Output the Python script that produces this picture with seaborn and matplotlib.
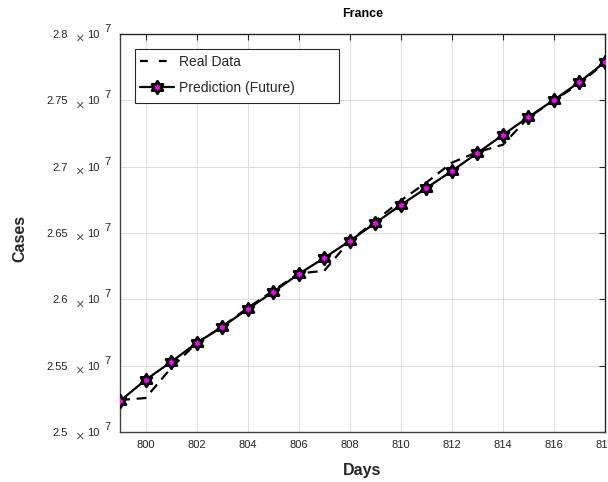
import numpy as np
import pandas as pd
import matplotlib
matplotlib.use("Agg")
import matplotlib.pyplot as plt
from matplotlib.path import Path
from matplotlib.lines import Line2D
from matplotlib.patches import Rectangle
import matplotlib.transforms as mtransforms
import seaborn as sns

# Daily cumulative case counts, France
days = [799, 800, 801, 802, 803, 804, 805, 806, 807, 808,
        809, 810, 811, 812, 813, 814, 815, 816, 817, 818]
real_cases = [2.5241e7, 2.5256e7, 2.5482e7, 2.5670e7, 2.5795e7, 2.5935e7, 2.6065e7,
              2.6195e7, 2.6215e7, 2.6440e7, 2.6590e7, 2.6745e7, 2.6880e7, 2.7030e7,
              2.7110e7, 2.7165e7, 2.7370e7, 2.7500e7, 2.7625e7, 2.7785e7]
pred_cases = [2.5234e7, 2.5392e7, 2.5528e7, 2.5671e7, 2.5791e7, 2.5927e7, 2.6055e7,
              2.6191e7, 2.6312e7, 2.6440e7, 2.6575e7, 2.6711e7, 2.6839e7, 2.6967e7,
              2.7103e7, 2.7239e7, 2.7374e7, 2.7503e7, 2.7638e7, 2.7789e7]
x_ticks = [800, 802, 804, 806, 808, 810, 812, 814, 816, 818]
y_ticks = [2.5e7, 2.55e7, 2.6e7, 2.65e7, 2.7e7, 2.75e7, 2.8e7]
y_tick_labels = ["2.5", "2.55", "2.6", "2.65", "2.7", "2.75", "2.8"]

df = pd.DataFrame({"Days": days, "Real": real_cases, "Pred": pred_cases})

sns.set_style("white")
plt.rcParams["font.family"] = ["Liberation Sans", "DejaVu Sans"]

TXT = "#262626"
MAGENTA = "#ff00ff"
DASH = (0, (4.5, 3))

# Six-pointed star (hexagram) marker
angles_out = np.deg2rad(90 + np.arange(6) * 60)
angles_in = angles_out + np.deg2rad(30)
r_in = 1 / np.sqrt(3)
verts = []
for ao, ai in zip(angles_out, angles_in):
    verts.append((np.cos(ao), np.sin(ao)))
    verts.append((r_in * np.cos(ai), r_in * np.sin(ai)))
verts.append(verts[0])
codes = [Path.MOVETO] + [Path.LINETO] * (len(verts) - 2) + [Path.CLOSEPOLY]
hexagram = Path(verts, codes)
marker_style = dict(marker=hexagram, markersize=9, markerfacecolor=MAGENTA,
                    markeredgecolor="black", markeredgewidth=2.0)

fig = plt.figure(figsize=(6.08, 4.82), dpi=100)
ax = fig.add_axes([120 / 608, 1 - 432 / 482, 485 / 608, 398 / 482])

sns.lineplot(data=df, x="Days", y="Real", ax=ax, color="black", linewidth=1.6,
             linestyle=DASH, label="Real Data", zorder=3)
sns.lineplot(data=df, x="Days", y="Pred", ax=ax, color="black", linewidth=1.6,
             label="Prediction (Future)", zorder=4, **marker_style)

ax.set_xlim(799, 818)
ax.set_ylim(2.5e7, 2.8e7)
ax.set_xticks(x_ticks)
ax.set_xticklabels([str(t) for t in x_ticks])
ax.set_yticks(y_ticks)
ax.set_yticklabels(y_tick_labels)

ax.grid(True, color="#dedede", linewidth=0.7)
ax.set_axisbelow(True)
ax.tick_params(axis="both", direction="in", length=4, width=0.8, colors=TXT,
               labelsize=8, top=True, right=True)
ax.tick_params(axis="y", pad=37.5)
ax.tick_params(axis="x", pad=6)
for side in ["left", "bottom"]:
    ax.spines[side].set_color("#404040")
    ax.spines[side].set_linewidth(1.0)
for side in ["top", "right"]:
    ax.spines[side].set_color(TXT)
    ax.spines[side].set_linewidth(1.0)

# Exponent annotation next to every y tick
ytrans = ax.get_yaxis_transform()
times_tr = mtransforms.offset_copy(ytrans, fig=fig, x=0, y=-5, units="dots")
ten_tr = mtransforms.offset_copy(ytrans, fig=fig, x=0, y=-1, units="dots")
exp_tr = mtransforms.offset_copy(ytrans, fig=fig, x=0, y=5, units="dots")
for v in y_ticks:
    ax.text(-44 / 485, v, "\u00d7", transform=times_tr, ha="left", va="center",
            fontsize=10.5, color="#555555", clip_on=False)
    ax.text(-33 / 485, v, "10", transform=ten_tr, ha="left", va="center",
            fontsize=8, color=TXT, clip_on=False)
    ax.text(-16 / 485, v, "7", transform=exp_tr, ha="left", va="center",
            fontsize=8, color=TXT, clip_on=False)

ax.set_xlabel("Days", fontsize=11.5, fontweight="bold", color=TXT)
ax.set_ylabel("Cases", fontsize=11.5, fontweight="bold", color=TXT)
ax.xaxis.label.set_va("center")
ax.yaxis.label.set_va("center")
ax.xaxis.set_label_coords(0.5, (432 - 470) / 398)
ax.yaxis.set_label_coords((20 - 120) / 485, (432 - 238) / 398)
ax.set_title("France", fontsize=9, fontweight="bold", color="black", pad=12)

# Legend with a boxed frame drawn separately
handles = [
    Line2D([], [], color="black", linewidth=1.6, linestyle=(0, (3.5, 5))),
    Line2D([], [], color="black", linewidth=1.6, **marker_style),
]
leg = ax.legend(handles, ["Real Data", "Prediction (Future)"], loc="upper left",
                bbox_to_anchor=((140 - 120) / 485, (432 - 55) / 398), fontsize=10,
                frameon=False, borderpad=0, handlelength=2.45, handletextpad=0.36,
                labelspacing=0.85, borderaxespad=0)
leg.set_zorder(6)
frame = Rectangle(((135 - 120) / 485, (432 - 103) / 398), 204 / 485, 54 / 398,
                  transform=ax.transAxes, facecolor="white", edgecolor=TXT,
                  linewidth=0.8, zorder=5)
ax.add_patch(frame)

fig.savefig("out.png", dpi=100)
